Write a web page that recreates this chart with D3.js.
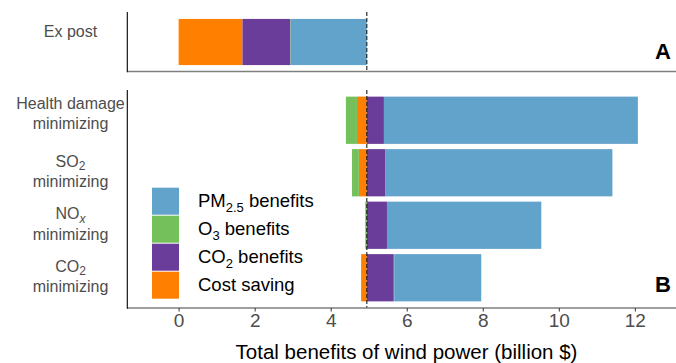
<!DOCTYPE html>
<html>
<head>
<meta charset="utf-8">
<script src="https://cdn.jsdelivr.net/npm/d3@7"></script>
<style>
  body { margin: 0; background: #fff; }
  text { font-family: "Liberation Sans", Arial, Helvetica, sans-serif; }
</style>
</head>
<body>
<svg id="chart" width="676" height="363"></svg>
<script>
// Benefit components, in stacking order
const components = ["cost", "co2", "o3", "pm25"];
const componentColors = ["#ff7f00", "#6a3d9a", "#74c05b", "#62a3cb"];

// Ex post benefits of wind power (billion $)
const exPostCost = 1.68;
const exPostCo2 = 1.26;
const exPostO3 = 0.01;
const exPostPm25 = 2.00;

// Optimised siting scenarios: change in each benefit relative to ex post (billion $)
const scenarios = ["health", "so2", "nox", "co2"];
const costChange = [-0.26, -0.21, 0.00, -0.15];
const co2Change  = [0.45, 0.48, 0.53, 0.71];
const o3Change   = [-0.29, -0.18, -0.04, 0.01];
const pm25Change = [6.68, 5.98, 4.06, 2.29];

const xTicks = [0, 2, 4, 6, 8, 10, 12];

// Category labels: lines made of text segments (sub = subscript)
const scenarioLabels = [
  [[{t: "Health damage"}], [{t: "minimizing"}]],
  [[{t: "SO"}, {t: "2", sub: true}], [{t: "minimizing"}]],
  [[{t: "NO"}, {t: "x", sub: true, italic: true}], [{t: "minimizing"}]],
  [[{t: "CO"}, {t: "2", sub: true}], [{t: "minimizing"}]]
];
const legendItems = [
  {key: "pm25", parts: [{t: "PM"}, {t: "2.5", sub: true}, {t: " benefits"}]},
  {key: "o3", parts: [{t: "O"}, {t: "3", sub: true}, {t: " benefits"}]},
  {key: "co2", parts: [{t: "CO"}, {t: "2", sub: true}, {t: " benefits"}]},
  {key: "cost", parts: [{t: "Cost saving"}]}
];

const svg = d3.select("#chart");
const color = d3.scaleOrdinal().domain(components).range(componentColors);

const plotLeft = 127.3, plotRight = 676;
const x = d3.scaleLinear().domain([-1.35, 13.03]).range([plotLeft, plotRight - 2]);

// Panel geometry
const panelA = {top: 12, bottom: 71.5};
const panelB = {top: 90, bottom: 308};

const yA = d3.scaleBand().domain(["expost"]).range([panelA.top, panelA.bottom + 0.5])
  .paddingInner(0).paddingOuter(0.15);
const yB = d3.scaleBand().domain(scenarios).range([94, 304])
  .paddingInner(0.1).paddingOuter(0.05);

const stack = d3.stack().keys(components).offset(d3.stackOffsetDiverging);

// ---- Panel A: ex post
const exPostRow = {id: "expost", cost: exPostCost, co2: exPostCo2, o3: exPostO3, pm25: exPostPm25};
const exPostTotal = exPostCost + exPostCo2 + exPostO3 + exPostPm25;
const seriesA = stack([exPostRow]);

// ---- Panel B: scenarios, stacked outward from the ex post total
const scenarioRows = scenarios.map((s, i) => ({
  id: s, cost: costChange[i], co2: co2Change[i], o3: o3Change[i], pm25: pm25Change[i]
}));
const seriesB = stack(scenarioRows);

function drawBars(series, yScale, base) {
  const g = svg.append("g");
  series.forEach(layer => {
    g.selectAll(null)
      .data(layer.filter(d => d[1] !== d[0]))
      .join("rect")
      .attr("x", d => x(base + Math.min(d[0], d[1])))
      .attr("width", d => Math.abs(x(base + d[1]) - x(base + d[0])))
      .attr("y", d => yScale(d.data.id))
      .attr("height", yScale.bandwidth())
      .attr("fill", color(layer.key));
  });
}
drawBars(seriesA, yA, 0);
drawBars(seriesB, yB, exPostTotal);

// Dashed reference line at the ex post total
[panelA, panelB].forEach(p => {
  svg.append("line")
    .attr("x1", x(exPostTotal)).attr("x2", x(exPostTotal))
    .attr("y1", p.top).attr("y2", p.bottom)
    .attr("stroke", "#1a1a1a").attr("stroke-width", 1.1)
    .attr("stroke-dasharray", "4,2");
});

// Axis lines
[panelA, panelB].forEach(p => {
  svg.append("line")
    .attr("x1", plotLeft).attr("x2", plotRight)
    .attr("y1", p.bottom).attr("y2", p.bottom)
    .attr("stroke", "#7f7f7f").attr("stroke-width", 1.6);
  svg.append("line")
    .attr("x1", plotLeft).attr("x2", plotLeft)
    .attr("y1", p.top).attr("y2", p.bottom + 0.8)
    .attr("stroke", "#000").attr("stroke-width", 1.1);
});

// Bottom x axis (panel B)
const xAxis = svg.append("g")
  .attr("transform", `translate(0,${panelB.bottom})`)
  .call(d3.axisBottom(x).tickValues(xTicks).tickFormat(d3.format("d"))
    .tickSizeInner(3.5).tickSizeOuter(0).tickPadding(2.5));
xAxis.select(".domain").remove();
xAxis.selectAll(".tick line").attr("stroke", "#333").attr("stroke-width", 1);
xAxis.selectAll(".tick text")
  .attr("fill", "#4d4d4d")
  .style("font-size", "19px");

svg.append("text")
  .attr("x", 406.5).attr("y", 358.5)
  .attr("text-anchor", "middle")
  .style("font-size", "20.5px").attr("fill", "#000")
  .text("Total benefits of wind power (billion $)");

// Rich text helper (handles subscripts)
function richText(sel, parts, size, shiftRatio) {
  const subSize = Math.round(size * 0.72);
  const shift = size * shiftRatio;
  parts.forEach((p, i) => {
    const ts = sel.append("tspan").text(p.t);
    if (p.sub) {
      ts.attr("dy", shift).style("font-size", subSize + "px");
      if (p.italic) ts.style("font-style", "italic");
    } else if (i > 0 && parts[i - 1].sub) {
      ts.attr("dy", -shift);
    }
  });
}

// Category labels
const labelX = 70.5;
const labelSize = 16;
svg.append("text")
  .attr("x", labelX).attr("y", yA("expost") + yA.bandwidth() / 2 - 4.7)
  .attr("text-anchor", "middle").attr("fill", "#4d4d4d")
  .style("font-size", labelSize + "px").text("Ex post");

scenarios.forEach((s, i) => {
  const c = yB(s) + yB.bandwidth() / 2;
  const hasSub = scenarioLabels[i][0].some(p => p.sub);
  const offsets = hasSub ? [-6, 14.5] : [-11, 9];
  scenarioLabels[i].forEach((line, j) => {
    const t = svg.append("text")
      .attr("x", labelX).attr("y", c + offsets[j])
      .attr("text-anchor", "middle").attr("fill", "#4d4d4d")
      .style("font-size", labelSize + "px");
    richText(t, line, labelSize, 0.22);
  });
});

// Legend
const legend = svg.append("g").attr("transform", "translate(152,187.7)");
legendItems.forEach((item, i) => {
  legend.append("rect")
    .attr("x", 0).attr("y", i * 28)
    .attr("width", 27).attr("height", 27)
    .attr("fill", color(item.key));
  const t = legend.append("text")
    .attr("x", 46).attr("y", i * 28 + 19)
    .attr("fill", "#000").style("font-size", "18.5px");
  richText(t, item.parts, 18.5, 0.28);
});

// Panel tags
svg.append("text").attr("x", 671).attr("y", 59.3).attr("text-anchor", "end")
  .style("font-size", "22px").style("font-weight", "bold").text("A");
svg.append("text").attr("x", 671).attr("y", 292.3).attr("text-anchor", "end")
  .style("font-size", "22px").style("font-weight", "bold").text("B");
</script>
</body>
</html>
